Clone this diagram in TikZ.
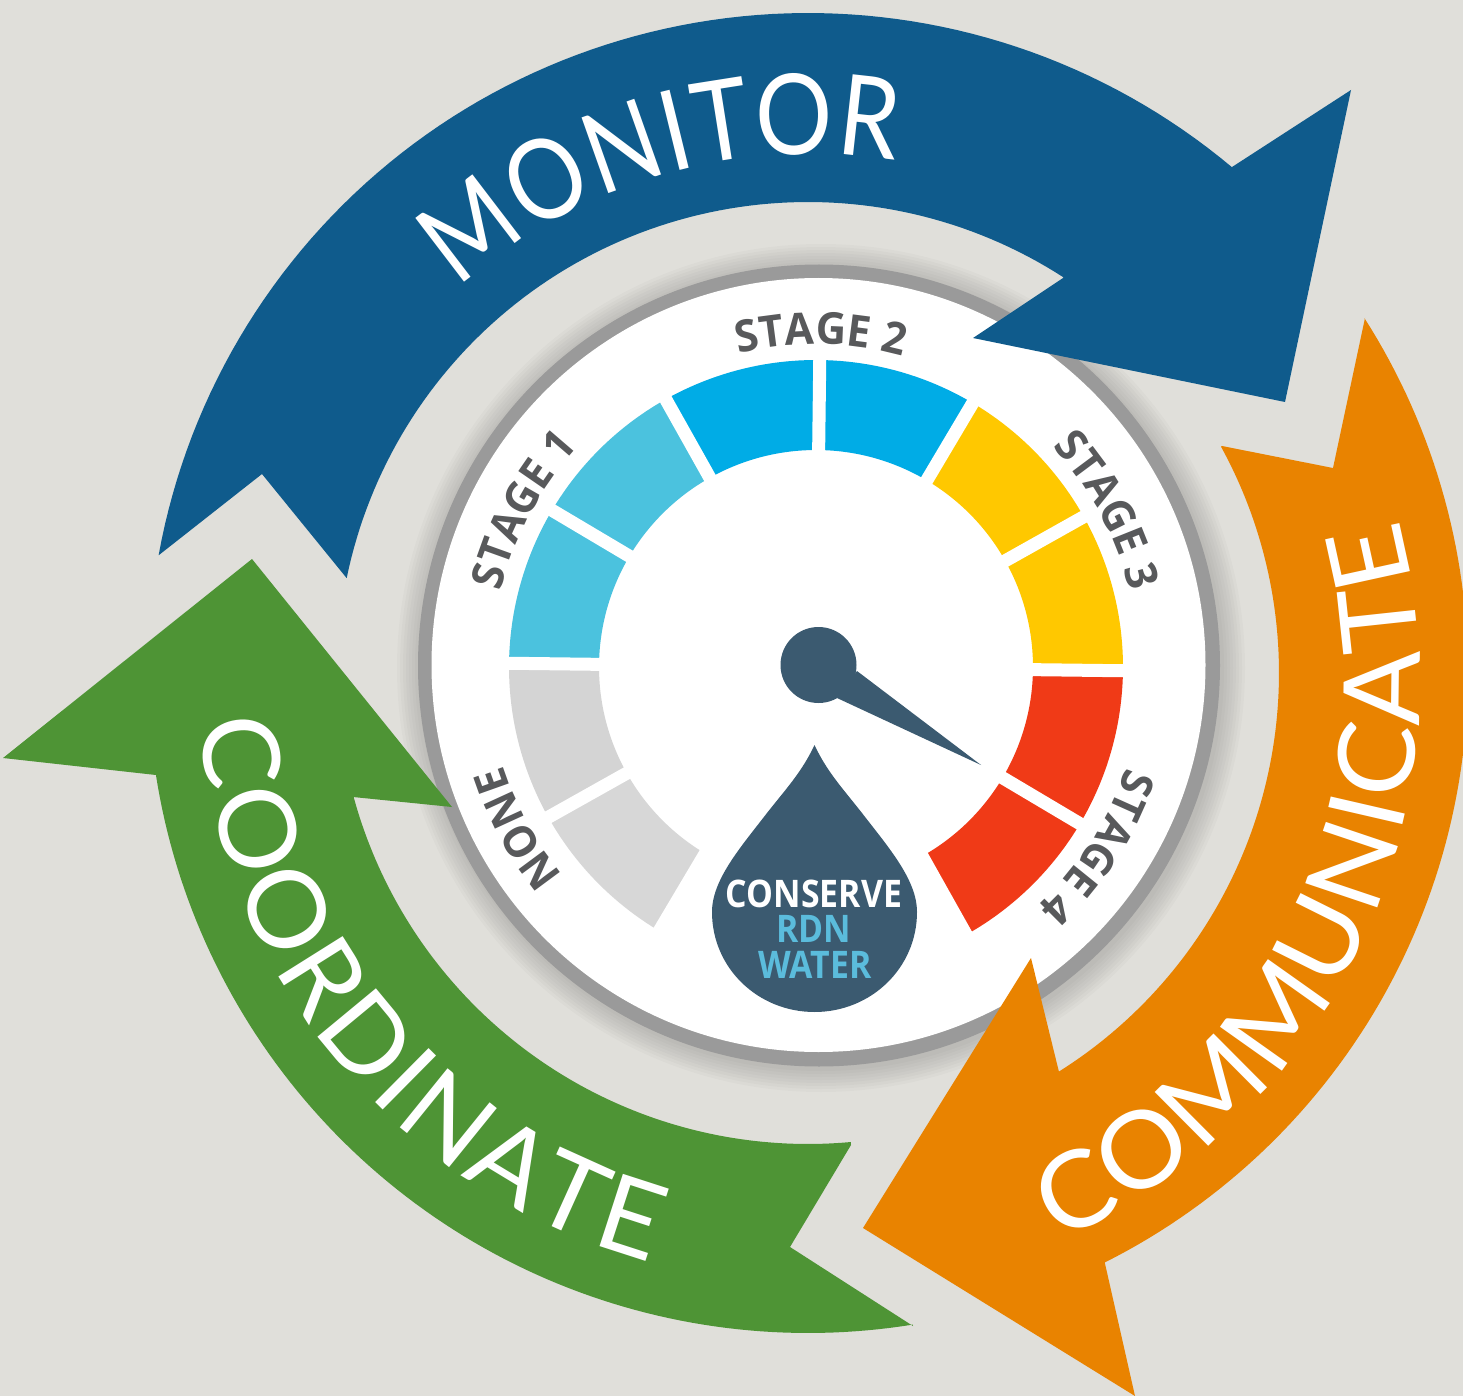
\documentclass[tikz,border=0pt]{standalone}
\usepackage{fontspec}
\setmainfont{Open Sans}
\usetikzlibrary{decorations.text}
\newfontfamily\montxt[FakeStretch=.86]{Lato}
\newfontfamily\bigtxt[FakeStretch=1.05]{Lato}
\newfontfamily\cootxt[FakeStretch=1.03]{Lato}
\newfontfamily\stagetxt[FakeStretch=.96]{Open Sans}
\newfontfamily\droptxt[FakeStretch=.89]{Open Sans}
\definecolor{bgc}{HTML}{E0DFDA}
\definecolor{ringc}{HTML}{9A9A9A}
\definecolor{bluec}{HTML}{0F5B8C}
\definecolor{orangec}{HTML}{E98300}
\definecolor{greenc}{HTML}{4E9435}
\definecolor{grayA}{HTML}{D4D4D4}
\definecolor{grayB}{HTML}{D7D7D7}
\definecolor{lblue}{HTML}{4BC2DE}
\definecolor{sblue}{HTML}{00ACE6}
\definecolor{yellowc}{HTML}{FFC800}
\definecolor{redc}{HTML}{F03A17}
\definecolor{slatec}{HTML}{3B5A70}
\definecolor{dropblue}{HTML}{5BBCDC}
\definecolor{labelc}{HTML}{58595B}
\tikzset{
  monarc/.style={decorate,decoration={text along path,text align={fit to path},text={|\color{white}\fontsize{56}{60}\selectfont\montxt|#1}}},
  bigarc/.style={decorate,decoration={text along path,text align={fit to path},text={|\color{white}\fontsize{53}{60}\selectfont\bigtxt|#1}}},
  cooarc/.style={decorate,decoration={text along path,text align={fit to path},text={|\color{white}\fontsize{53}{60}\selectfont\cootxt|#1}}},
  stagearc/.style={decorate,decoration={text along path,text align={fit to path},text={|\color{labelc}\fontsize{22}{26}\selectfont\stagetxt\bfseries|#1}}},
  droplabel/.style={inner sep=0pt,anchor=base,font=\fontsize{19}{22}\selectfont\droptxt\bfseries}
}
\begin{document}
\begin{tikzpicture}[x=.5pt,y=-.5pt]
\clip (0,0) rectangle (1463,1396);
\fill[bgc] (0,0) rectangle (1463,1396);
% gauge shadow, ring, disc
\foreach \r in {403,406,...,424}
  \fill[black,opacity=.018] (821,668) circle[radius=\r];
\fill[ringc] (819,665.5) circle[radius=401];
\fill[white] (818.5,665) circle[radius=387];
% segments
\foreach \a/\c in {120.7/grayB,150.7/grayA,180.7/lblue,210.7/lblue,240.7/sblue,270.7/sblue,300.7/yellowc,330.7/yellowc,360.7/redc,390.7/redc}{
  \pgfmathsetmacro\b{\a+30}
  \fill[\c] plot[domain=\a:\b,samples=24] ({816+307*cos(\x)},{667+307*sin(\x)})
     -- plot[domain=\b:\a,samples=24] ({816+217*cos(\x)},{667+217*sin(\x)}) -- cycle;
}
\foreach \a in {120.7,150.7,180.7,210.7,240.7,270.7,300.7,330.7,360.7,390.7,420.7}
  \draw[white,line width=6.5pt] ({816+205*cos(\a)},{667+205*sin(\a)}) -- ({816+318*cos(\a)},{667+318*sin(\a)});
% hub and needle
\fill[slatec] (818.5,665) circle[radius=38];
\fill[slatec] (857,671) -- (981,765) -- (837,698) -- cycle;
% drop
\fill[slatec] (814.5,745) .. controls (802,772) and (785,790) .. (767,813)
  .. controls (740,848) and (712,880) .. (712,912)
  .. controls (712,968) and (758,1012) .. (814.5,1012)
  .. controls (871,1012) and (917,968) .. (917,912)
  .. controls (917,880) and (889,848) .. (862,813)
  .. controls (844,790) and (827,772) .. (814.5,745) -- cycle;
\node[droplabel,text=white] (conserve) at (814,907) {CONSERVE};
\node[droplabel,text=dropblue] (rdn) at (814,942) {RDN};
\node[droplabel,text=dropblue] (water) at (815,978) {WATER};
% arrows
\fill[bluec] (159,555) -- plot[domain=190.3:309.96,samples=90] ({808+660*cos(\x)},{673+660*sin(\x)})
  -- (1351,90) -- (1285,402) -- (973,338) -- (1063,278)
  -- plot[domain=302.84:191.62,samples=90] ({808+471*cos(\x)},{673+471*sin(\x)})
  -- (262,474) -- cycle;
\fill[orangec] (1365,318) -- plot[domain=-32.51:63.28,samples=90] ({808+660*cos(\x)},{673+660*sin(\x)})
  -- (1135,1396) -- (863,1228) -- (1031,958) -- (1059,1072)
  -- plot[domain=57.83:-28.74,samples=90] ({808+471*cos(\x)},{673+471*sin(\x)})
  -- (1222,446) -- (1333,468) -- cycle;
\fill[greenc] (3,758) -- (156,775) -- plot[domain=171.11:80.87,samples=90] ({808+660*cos(\x)},{673+660*sin(\x)})
  -- (913,1326) -- (790,1247) -- (851,1145)
  -- plot[domain=84.79:164.76,samples=90] ({808+471*cos(\x)},{673+471*sin(\x)})
  -- (353,797) -- (452,807) -- (252,559) -- cycle;
% curved text, in a y-up frame
\begin{scope}[shift={(0,1396)},y=.5pt]
\path[monarc={MONITOR}] (808,723)++(132.3:519) arc[start angle=132.3,end angle=80.3,radius=519];
\path[bigarc={COMMUNICATE}] (804.7,714.9)++(-65.6:615) arc[start angle=-65.6,end angle=15.3,radius=615];
\path[cooarc={COORDINATE}] (808,723)++(184.5:610) arc[start angle=184.5,end angle=255,radius=610];
\path[stagearc={STAGE 2}] (816,729)++(103.8:323) arc[start angle=103.8,end angle=75,radius=323];
\path[stagearc={STAGE 1}] (816,729)++(166.5:324) arc[start angle=166.5,end angle=139,radius=324];
\path[stagearc={STAGE 3}] (816,729)++(43:323) arc[start angle=43,end angle=15,radius=323];
\path[stagearc={STAGE 4}] (816,729)++(-18:326) arc[start angle=-18,end angle=-46,radius=326];
\path[stagearc={NONE}] (816,729)++(219.5:328) arc[start angle=219.5,end angle=199,radius=328];
\end{scope}
\end{tikzpicture}
\end{document}
